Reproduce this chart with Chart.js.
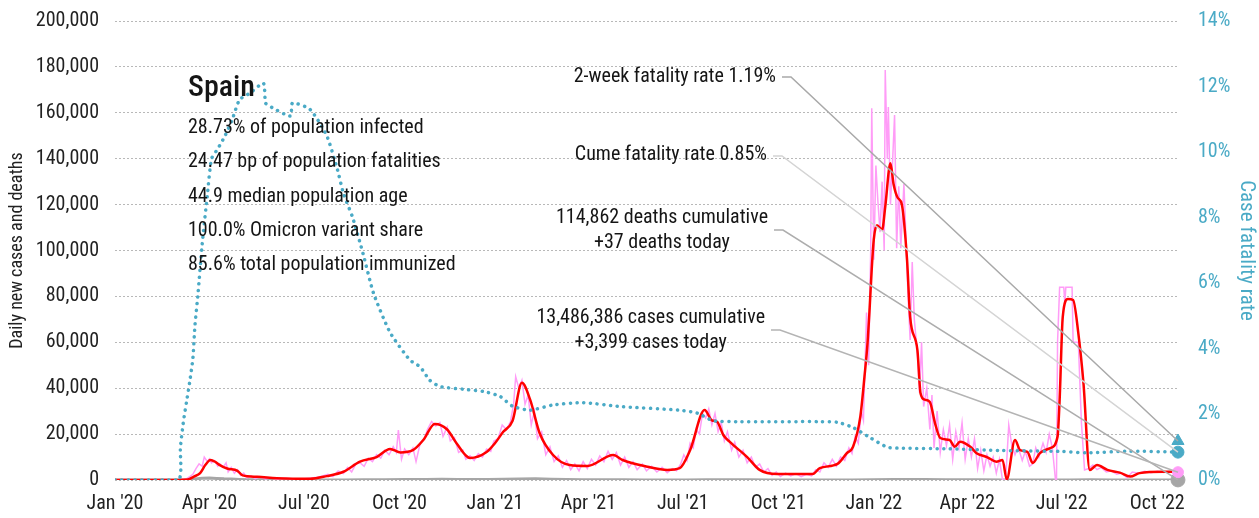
<!DOCTYPE html>
<html>
<head>
<meta charset="utf-8">
<title>Spain daily cases</title>
<script src="https://cdn.jsdelivr.net/npm/chart.js@4.4.0/dist/chart.umd.min.js"></script>
<style>
  body { margin: 0; background: #fff; }
  canvas { display: block; }
</style>
</head>
<body>
<canvas id="covidChart" width="1259" height="518"></canvas>
<script>
const FONT = "'Liberation Sans Narrow', 'Roboto Condensed', 'DejaVu Sans Condensed', sans-serif";

// x positions are days since 1 Jan 2020
const startDate = '2020-01-01';
const tickDates = ['2020-01-01', '2020-04-01', '2020-07-01', '2020-10-01', '2021-01-01', '2021-04-01',
  '2021-07-01', '2021-10-01', '2022-01-01', '2022-04-01', '2022-07-01', '2022-10-01'];
const tickLabels = ["Jan '20", "Apr '20", "Jul '20", "Oct '20", "Jan '21", "Apr '21",
  "Jul '21", "Oct '21", "Jan '22", "Apr '22", "Jul '22", "Oct '22"];
const lastDay = 1024;

// daily reported cases
const rawDays = [0, 55, 68, 72, 75, 78, 81, 84, 86, 89, 91, 93, 96, 99, 101, 104, 107, 109, 112, 115, 118, 121, 124, 127, 131, 135, 139, 145, 150, 156, 165, 175, 185, 195, 200, 205, 210, 215, 220, 224, 228, 232, 236, 240, 244, 248, 252, 256, 260, 264, 268, 271, 273, 276, 279, 283, 287, 290, 294, 298, 301, 305, 309, 313, 316, 320, 323, 327, 331, 335, 338, 342, 346, 350, 354, 358, 362, 365, 369, 373, 377, 381, 384, 386, 389, 392, 395, 398, 401, 404, 407, 411, 415, 419, 423, 427, 431, 435, 439, 443, 447, 451, 455, 459, 463, 467, 471, 475, 479, 483, 487, 491, 495, 499, 503, 508, 512, 517, 522, 527, 532, 537, 541, 545, 548, 551, 554, 557, 560, 563, 566, 569, 572, 575, 578, 581, 584, 587, 590, 594, 597, 601, 605, 609, 613, 617, 621, 625, 629, 633, 637, 641, 646, 651, 656, 661, 666, 671, 675, 679, 683, 687, 691, 695, 699, 703, 707, 710, 713, 716, 719, 721, 724, 726, 728, 729, 731, 733, 735, 737, 739, 741, 742, 744, 745, 747, 749, 751, 753, 755, 757, 760, 762, 764, 766, 768, 770, 773, 775, 777, 779, 782, 785, 787, 789, 792, 795, 798, 801, 804, 807, 810, 813, 816, 819, 822, 825, 828, 831, 834, 837, 840, 843, 846, 849, 852, 855, 858, 861, 864, 867, 870, 874, 877, 881, 884, 887, 890, 894, 897, 900, 903, 906, 907, 908, 910, 914, 915, 916, 922, 923, 928, 931, 934, 938, 942, 946, 950, 955, 960, 965, 970, 975, 980, 986, 992, 998, 1004, 1010, 1017, 1024];
const rawCases = [0, 0, 300, 1500, 2500, 5000, 7000, 6000, 10000, 8000, 9200, 7500, 8500, 6000, 7000, 5500, 7500, 3500, 5500, 3000, 4500, 2000, 3000, 1000, 1800, 600, 1500, 400, 1000, 300, 800, 200, 700, 1200, 1800, 2500, 1500, 4000, 2800, 5500, 3500, 7000, 7500, 6000, 9500, 8000, 11000, 9500, 13000, 11000, 14500, 12000, 21800, 9000, 13500, 11000, 14000, 8000, 16000, 18000, 22000, 25500, 23500, 25000, 19000, 23000, 17000, 18500, 12000, 13000, 9000, 10500, 8500, 11500, 10000, 13500, 12500, 17000, 18000, 24000, 22000, 25500, 33000, 45000, 40000, 43500, 33000, 37000, 24000, 30000, 18000, 21000, 11000, 14500, 8000, 10500, 5500, 8500, 4500, 7000, 4000, 8000, 5000, 9000, 6500, 10500, 8000, 12500, 9000, 12000, 6500, 10000, 5500, 8000, 4500, 7000, 4000, 6000, 3500, 5500, 3200, 5000, 4000, 7000, 11000, 8500, 16000, 14000, 22000, 20000, 29000, 27000, 31000, 24000, 29000, 21000, 25000, 17000, 21000, 13000, 16500, 10000, 13000, 7500, 10000, 5500, 7000, 3500, 5000, 2000, 3500, 1500, 3000, 1800, 2800, 1500, 2500, 1800, 4500, 3500, 7500, 5500, 9000, 6000, 10000, 8500, 14000, 11500, 19000, 16000, 30000, 26000, 73000, 50000, 100000, 162000, 96000, 137000, 121000, 108000, 130000, 100000, 178600, 140000, 162500, 120000, 138000, 159000, 101000, 128000, 101000, 129000, 105000, 80000, 61000, 95000, 70000, 55000, 38000, 60000, 32000, 40000, 22000, 37000, 14000, 30000, 12000, 22000, 15000, 24000, 9000, 21000, 14000, 25000, 9000, 18000, 10000, 18000, 5000, 13000, 4000, 11000, 6000, 10000, 3000, 9000, 0, 0, 24000, 15000, 11000, 14500, 8500, 12500, 6000, 7000, 14000, 10000, 16000, 12000, 20000, 14000, 0, 0, 60000, 84000, 84000, 77000, 84000, 84000, 60000, 60000, 25000, 4400, 5000, 6500, 4500, 5500, 3500, 4000, 2500, 3000, 1000, 3500, 3000, 3800, 3200, 3800, 3300, 3700, 3399];

// 7-day average of cases
const avgDays = [0, 60, 70, 76, 82, 87, 92, 97, 101, 108, 118, 123, 137, 156, 188, 204, 220, 236, 252, 265, 275, 287, 297, 308, 320, 329, 342, 358, 366, 374, 383, 392, 400, 409, 422, 438, 455, 480, 489, 513, 532, 544, 554, 568, 575, 580, 586, 592, 609, 621, 638, 672, 679, 696, 705, 711, 718, 722, 725, 727, 729, 731, 734, 739, 742, 747, 750, 754, 758, 763, 766, 773, 776, 780, 785, 790, 795, 804, 809, 814, 824, 830, 840, 849, 855, 859, 867, 872, 879, 884, 891, 901, 908, 910, 913, 918, 923, 928, 933, 939, 946, 956, 968, 978, 987, 1010, 1024];
const avgCases = [0, 0, 200, 1500, 3000, 6500, 8700, 7800, 6500, 5000, 4000, 2000, 1400, 800, 500, 1700, 3600, 8000, 10000, 13500, 12000, 13000, 17400, 24400, 22000, 16000, 9600, 12200, 16000, 21000, 25800, 42400, 34900, 20500, 10900, 6500, 6100, 10900, 8700, 5800, 4400, 5200, 13000, 30500, 26000, 25400, 19600, 16700, 10000, 4400, 2600, 2600, 5200, 7000, 11700, 14500, 27600, 45000, 60000, 75000, 92000, 105000, 111000, 109000, 119000, 138000, 129000, 123000, 120000, 96000, 71000, 56600, 37800, 35000, 34000, 24700, 18300, 17400, 14500, 16700, 14500, 11700, 10000, 8000, 8700, 300, 17400, 13000, 12300, 7400, 11700, 13900, 18900, 34900, 71000, 78900, 78400, 64000, 42000, 4400, 6500, 4400, 3200, 1500, 3000, 3600, 3600];

// daily deaths
const deathDays = [0, 65, 70, 77, 84, 91, 98, 105, 112, 120, 130, 140, 150, 160, 180, 200, 220, 240, 260, 280, 300, 315, 330, 345, 360, 375, 390, 405, 420, 435, 450, 470, 490, 510, 530, 550, 570, 590, 610, 630, 650, 670, 690, 710, 730, 750, 765, 780, 800, 830, 860, 890, 920, 940, 960, 990, 1010, 1024];
const deaths = [0, 0, 50, 400, 800, 850, 700, 500, 400, 250, 150, 80, 50, 10, 5, 10, 30, 80, 150, 200, 250, 350, 250, 200, 200, 300, 450, 500, 350, 200, 100, 80, 60, 50, 30, 20, 60, 100, 80, 50, 30, 20, 20, 40, 100, 200, 250, 200, 100, 60, 40, 30, 50, 80, 40, 20, 20, 37];

// cumulative case fatality rate, %
const cfrDays = [0, 61, 63, 66, 69, 72, 75, 77, 80, 84, 89, 93, 99, 106, 113, 120, 130, 143, 145, 149, 169, 171, 188, 204, 214, 220, 229, 239, 249, 265, 284, 294, 303, 313, 335, 355, 371, 383, 400, 422, 451, 487, 544, 561, 576, 599, 679, 696, 711, 727, 744, 759, 804, 853, 913, 936, 978, 1024];
const cfrRate = [0, 0, 1.0, 1.8, 2.4, 3.0, 3.7, 4.7, 5.7, 7.2, 8.7, 9.8, 10.1, 10.5, 11.0, 11.6, 11.8, 12.1, 11.5, 11.4, 11.1, 11.5, 11.3, 10.5, 9.5, 8.75, 8.0, 6.9, 5.7, 4.5, 3.66, 3.45, 3.05, 2.85, 2.77, 2.7, 2.55, 2.25, 2.13, 2.29, 2.36, 2.24, 2.13, 2.04, 1.81, 1.78, 1.78, 1.76, 1.6, 1.3, 1.0, 0.97, 0.95, 0.9, 0.87, 0.83, 0.88, 0.85];

const twoWeekRate = 1.19;
const cumeRate = 0.85;
const casesToday = 3399;
const deathsToday = 37;

const countryName = 'Spain';
const infoLines = [
  '28.73% of population infected',
  '24.47 bp of population fatalities',
  '44.9 median population age',
  '100.0% Omicron variant share',
  '85.6% total population immunized'
];

const dayOf = d => Math.round((Date.parse(d) - Date.parse(startDate)) / 86400000);
const tickDays = tickDates.map(dayOf);
const pairs = (xs, ys) => xs.map((x, i) => ({ x: x, y: ys[i] }));

const PINK = '#ff9cf7';
const RED = '#ff0000';
const TEAL = '#4aaac6';
const GREY = '#a6a6a6';

// callout labels with leader lines to the latest values
const callouts = [
  { lines: ['2-week fatality rate 1.19%'], right: 776, y: 77, lineY: 77, color: '#a9a9a9',
    target: s => ({ x: s.x.getPixelForValue(lastDay), y: s.y1.getPixelForValue(twoWeekRate) }) },
  { lines: ['Cume fatality rate 0.85%'], right: 767, y: 155, lineY: 156, color: '#d4d4d4',
    target: s => ({ x: s.x.getPixelForValue(lastDay), y: s.y1.getPixelForValue(cumeRate) }) },
  { lines: ['114,862 deaths cumulative', '+37 deaths today'], right: 768, y: 218, lineY: 230, color: '#adadad',
    target: s => ({ x: s.x.getPixelForValue(lastDay), y: s.y.getPixelForValue(deathsToday) }) },
  { lines: ['13,486,386 cases cumulative', '+3,399 cases today'], right: 765, y: 318, lineY: 330, color: '#b4b4b4',
    target: s => ({ x: s.x.getPixelForValue(lastDay), y: s.y.getPixelForValue(casesToday) }) }
];

const notesPlugin = {
  id: 'notes',
  afterDatasetsDraw(chart) {
    const { ctx, scales } = chart;
    ctx.save();
    ctx.textBaseline = 'middle';
    ctx.fillStyle = '#151515';
    ctx.textAlign = 'left';
    ctx.font = `500 30px ${FONT}`;
    ctx.fillText(countryName, 188, 88);
    ctx.font = `20px ${FONT}`;
    infoLines.forEach((t, i) => ctx.fillText(t, 188, 128 + i * 34.3));

    callouts.forEach(c => {
      ctx.font = `20px ${FONT}`;
      const w = Math.max(...c.lines.map(l => ctx.measureText(l).width));
      ctx.textAlign = 'center';
      ctx.fillStyle = '#151515';
      c.lines.forEach((l, i) => ctx.fillText(l, c.right - w / 2, c.y + i * 25));
      const t = c.target(scales);
      ctx.strokeStyle = c.color;
      ctx.lineWidth = 1.5;
      ctx.beginPath();
      ctx.moveTo(c.right + 6, c.lineY);
      ctx.lineTo(c.right + 15, c.lineY);
      ctx.lineTo(t.x, t.y);
      ctx.stroke();
    });
    ctx.restore();
  }
};

// fixed axis box sizes so the plot area lines up with the page layout
const fixY = width => s => {
  s.width = width;
  s.paddingTop = 0;
  s.paddingBottom = 0;
};

const ctx = document.getElementById('covidChart').getContext('2d');
new Chart(ctx, {
  type: 'line',
  data: {
    datasets: [
      { data: [{ x: lastDay, y: twoWeekRate }], yAxisID: 'y1', showLine: false, pointStyle: 'triangle',
        pointRadius: 7, backgroundColor: TEAL, borderColor: TEAL, clip: false },
      { data: [{ x: lastDay, y: cumeRate }], yAxisID: 'y1', showLine: false,
        pointRadius: 6, backgroundColor: TEAL, borderColor: TEAL, clip: false },
      { data: [{ x: lastDay, y: casesToday }], yAxisID: 'y', showLine: false,
        pointRadius: 5.5, backgroundColor: PINK, borderColor: PINK, clip: false },
      { data: [{ x: lastDay, y: deathsToday }], yAxisID: 'y', showLine: false,
        pointRadius: 7, backgroundColor: GREY, borderColor: GREY, clip: false },
      { label: 'Case fatality rate', data: pairs(cfrDays, cfrRate), yAxisID: 'y1',
        borderColor: TEAL, borderWidth: 3.5, borderDash: [0.1, 6.6], borderCapStyle: 'round',
        pointRadius: 0, tension: 0.2 },
      { label: '7-day average', data: pairs(avgDays, avgCases), yAxisID: 'y',
        borderColor: RED, borderWidth: 2.5, pointRadius: 0, cubicInterpolationMode: 'monotone' },
      { label: 'Daily cases', data: pairs(rawDays, rawCases), yAxisID: 'y',
        borderColor: PINK, borderWidth: 1.5, pointRadius: 0, tension: 0 },
      { label: 'Daily deaths', data: pairs(deathDays, deaths), yAxisID: 'y',
        borderColor: GREY, borderWidth: 3, pointRadius: 0, tension: 0 }
    ]
  },
  options: {
    responsive: false,
    animation: false,
    devicePixelRatio: 1,
    layout: { padding: { top: 21, left: 0, right: 0, bottom: 0 } },
    plugins: { legend: { display: false }, tooltip: { enabled: false } },
    scales: {
      x: {
        type: 'linear',
        min: 0,
        max: lastDay + 1,
        afterFit: s => { s.height = 38; },
        afterBuildTicks: s => { s.ticks = tickDays.map(v => ({ value: v })); },
        grid: { display: false, drawTicks: false },
        border: { display: false },
        ticks: {
          autoSkip: false,
          maxRotation: 0,
          padding: 12,
          color: '#222',
          font: { family: FONT, size: 20 },
          callback: v => tickLabels[tickDays.indexOf(v)]
        }
      },
      y: {
        position: 'left',
        min: 0,
        max: 200000,
        afterFit: fixY(115),
        grid: { color: '#b8b8b8', lineWidth: 1, drawTicks: false },
        border: { display: false, dash: [2, 2] },
        ticks: {
          stepSize: 20000,
          padding: 16,
          color: '#222',
          font: { family: FONT, size: 20 },
          callback: v => v.toLocaleString('en-US')
        },
        title: {
          display: true,
          text: 'Daily new cases and deaths',
          color: '#222',
          padding: { top: 7, bottom: 0 },
          font: { family: FONT, size: 18 }
        }
      },
      y1: {
        position: 'right',
        min: 0,
        max: 14,
        afterFit: fixY(80),
        grid: { display: false, drawTicks: false },
        border: { display: false },
        ticks: {
          stepSize: 2,
          padding: 19,
          color: TEAL,
          font: { family: FONT, size: 20 },
          callback: v => v + '%'
        },
        title: {
          display: true,
          text: 'Case fatality rate',
          color: TEAL,
          padding: { top: 0, bottom: 0 },
          font: { family: FONT, size: 21 }
        }
      }
    }
  },
  plugins: [notesPlugin]
});
</script>
</body>
</html>
